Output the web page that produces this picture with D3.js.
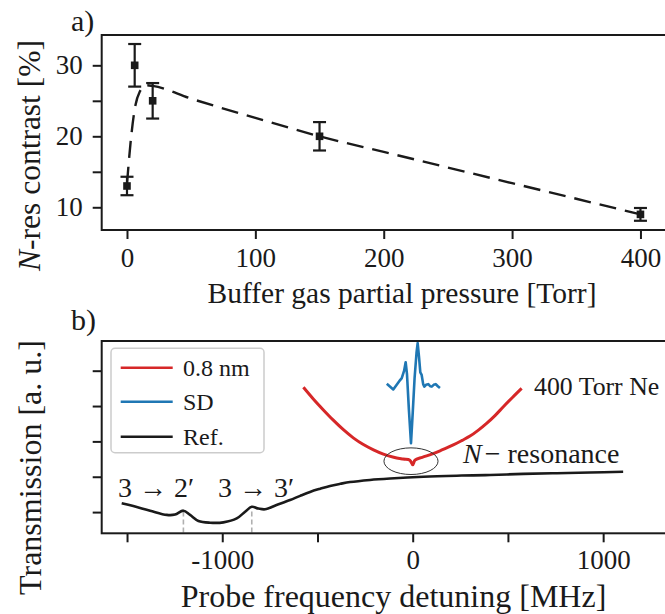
<!DOCTYPE html>
<html><head><meta charset="utf-8">
<script src="https://cdn.jsdelivr.net/npm/d3@7"></script>
<style>
body{margin:0;background:#fff}
svg{display:block}
text{font-family:"Liberation Serif","Times New Roman",serif;fill:#1a1a1a}
</style>
</head><body>
<svg id="c" width="665" height="614"></svg>
<script>
// ---------- Panel a data ----------
const pressure = [0, 6, 20, 150, 400];
const contrast = [13, 30, 25, 20, 9];
const contrastErr = [1.3, 3, 2.5, 2, 0.9];
const fitPressure = [0, 3, 6, 10, 15, 20, 50, 100, 150, 200, 250, 300, 350, 400];
const fitContrast = [13.3, 19.5, 23.8, 26.3, 27.2, 27.1, 25.3, 22.6, 20.0, 17.8, 15.6, 13.4, 11.2, 9.0];
const xTicksA = [0, 100, 200, 300, 400];
const yTicksA = [10, 15, 20, 25, 30];
const yLabelsA = [10, 20, 30];

// ---------- Panel b data ----------
const detuneRef = [-1528,-1467,-1379,-1291,-1248,-1204,-1169,-1125,-1064,-994,-924,-880,-845,-810,-775,-715,-644,-591,-539,-486,-434,-380,-329,-224,-119,56,231,406,581,756,931,1105];
const transRef  = [0.25,0.17,0.04,-0.08,-0.07,0.04,-0.08,-0.25,-0.30,-0.29,-0.18,0.01,0.15,0.10,0.08,0.20,0.34,0.46,0.57,0.66,0.74,0.80,0.85,0.91,0.95,1.00,1.03,1.05,1.08,1.10,1.12,1.14];
const detuneRed = [-574,-522,-469,-417,-364,-312,-259,-206,-154,-100,-50,-15,0,12,50,100,150,213,260,301,345,388,432,476,525,572];
const transRed  = [3.53,3.20,2.89,2.60,2.33,2.10,1.91,1.76,1.64,1.55,1.50,1.47,1.34,1.47,1.55,1.64,1.75,1.90,2.03,2.15,2.32,2.51,2.73,2.98,3.25,3.50];
const detuneBlue = [-136,-102,-67,-58,-45,-37,-30,-20,-9,0,10,20,26,33,40,47,55,61,70,82,92,100,110,121,132,143];
const transBlue  = [3.63,3.47,3.73,3.78,4.0,4.24,3.9,2.9,1.95,2.8,3.8,4.5,4.78,4.4,3.95,3.88,3.62,3.55,3.6,3.62,3.56,3.55,3.6,3.62,3.56,3.51];
const hfsDetune = [-1204, -845];
const hfsLabels = ["3 \u2192 2\u2032", "3 \u2192 3\u2032"];
const xTicksB = [-1500, -1000, -500, 0, 500, 1000];
const xLabelsB = [-1000, 0, 1000];
const yTicksB = [0, 1, 2, 3, 4];
const legendNames = ["0.8 nm", "SD", "Ref."];
const legendColors = ["#d62728", "#1f77b4", "#1a1a1a"];

const svg = d3.select("#c");
const INK = "#1a1a1a";
const SERIF = '"Liberation Serif","Times New Roman",serif';

// ---------- Panel a ----------
const A = {l: 101.7, r: 666, t: 35, b: 230};
const xA = d3.scaleLinear().domain([-19.7, 419.9]).range([A.l, A.r]);
const yA = d3.scaleLinear().domain([6.8, 34.27]).range([A.b, A.t]);

function styleAxis(g, fs){
  g.attr("font-family", SERIF).attr("font-size", fs);
  g.select(".domain").remove();
  g.selectAll(".tick line").attr("stroke", INK).attr("stroke-width", 2);
  g.selectAll(".tick text").attr("font-size", fs).attr("fill", INK).attr("font-family", SERIF);
}

const gxA = svg.append("g").attr("transform", `translate(0,${A.b})`)
  .call(d3.axisBottom(xA).tickValues(xTicksA).tickSize(9).tickPadding(9).tickFormat(d3.format("d")));
styleAxis(gxA, 27);
const gyA = svg.append("g").attr("transform", `translate(${A.l},0)`)
  .call(d3.axisLeft(yA).tickValues(yTicksA).tickSize(9).tickPadding(10)
    .tickFormat(d => yLabelsA.includes(d) ? d : ""));
styleAxis(gyA, 27);

// fit line
svg.append("path")
  .datum(fitPressure.map((p, i) => [p, fitContrast[i]]))
  .attr("fill", "none").attr("stroke", INK).attr("stroke-width", 2.4)
  .attr("stroke-dasharray", "17,9")
  .attr("d", d3.line().x(d => xA(d[0])).y(d => yA(d[1])).curve(d3.curveMonotoneX));

// error bars
const eb = svg.append("g");
pressure.forEach((p, i) => {
  const x = xA(p), y1 = yA(contrast[i] - contrastErr[i]), y2 = yA(contrast[i] + contrastErr[i]);
  eb.append("line").attr("x1", x).attr("x2", x).attr("y1", y1).attr("y2", y2).attr("stroke", INK).attr("stroke-width", 2.2);
  [y1, y2].forEach(y => eb.append("line").attr("x1", x - 6.5).attr("x2", x + 6.5).attr("y1", y).attr("y2", y).attr("stroke", INK).attr("stroke-width", 2.2));
  eb.append("rect").attr("x", x - 3.8).attr("y", yA(contrast[i]) - 3.8).attr("width", 7.6).attr("height", 7.6).attr("fill", INK);
});

// spines a
svg.append("rect").attr("x", A.l).attr("y", A.t).attr("width", A.r - A.l).attr("height", A.b - A.t)
  .attr("fill", "none").attr("stroke", INK).attr("stroke-width", 2);

svg.append("text").attr("x", 402).attr("y", 303).attr("text-anchor", "middle").attr("font-size", 29.5)
  .text("Buffer gas partial pressure [Torr]");
const ylA = svg.append("text").attr("transform", "translate(40,155.5) rotate(-90)").attr("text-anchor", "middle").attr("font-size", 31.5);
ylA.append("tspan").attr("font-style", "italic").text("N");
ylA.append("tspan").text("-res contrast [%]");
svg.append("text").attr("x", 71).attr("y", 31).attr("font-size", 30).text("a)");

// ---------- Panel b ----------
const B = {l: 101.7, r: 666, t: 341, b: 533.3};
const xB = d3.scaleLinear().domain([-1633, 1330]).range([B.l, B.r]);
const yB = d3.scaleLinear().domain([-0.60, 4.84]).range([B.b, B.t]);

const gxB = svg.append("g").attr("transform", `translate(0,${B.b})`)
  .call(d3.axisBottom(xB).tickValues(xTicksB).tickSize(9).tickPadding(8)
    .tickFormat(d => xLabelsB.includes(d) ? String(d) : ""));
styleAxis(gxB, 27);
const gyB = svg.append("g").attr("transform", `translate(${B.l},0)`)
  .call(d3.axisLeft(yB).tickValues(yTicksB).tickSize(9).tickFormat(""));
styleAxis(gyB, 27);

// hyperfine dashed markers
hfsDetune.forEach(d => {
  svg.append("line").attr("x1", xB(d)).attr("x2", xB(d)).attr("y1", yB(0.02)).attr("y2", B.b)
    .attr("stroke", "#b0b0b0").attr("stroke-width", 1.6).attr("stroke-dasharray", "5,3");
});

const pts = (xs, ys) => xs.map((d, i) => [d, ys[i]]);
const smooth = d3.line().x(d => xB(d[0])).y(d => yB(d[1])).curve(d3.curveCatmullRom);
const sharp = d3.line().x(d => xB(d[0])).y(d => yB(d[1]));

svg.append("path").attr("fill", "none").attr("stroke", "#1a1a1a").attr("stroke-width", 2.6)
  .attr("d", smooth(pts(detuneRef, transRef)));
svg.append("path").attr("fill", "none").attr("stroke", "#d62728").attr("stroke-width", 3)
  .attr("stroke-linejoin", "round").attr("d", smooth(pts(detuneRed, transRed)));
svg.append("path").attr("fill", "none").attr("stroke", "#1f77b4").attr("stroke-width", 2.6)
  .attr("stroke-linejoin", "round").attr("d", sharp(pts(detuneBlue, transBlue)));

// ellipse around N-resonance
svg.append("ellipse").attr("cx", xB(-9)).attr("cy", yB(1.44))
  .attr("rx", xB(142) - xB(0)).attr("ry", yB(0) - yB(0.377))
  .attr("fill", "none").attr("stroke", "#333").attr("stroke-width", 1);

// spines b
svg.append("rect").attr("x", B.l).attr("y", B.t).attr("width", B.r - B.l).attr("height", B.b - B.t)
  .attr("fill", "none").attr("stroke", INK).attr("stroke-width", 2);

// annotations
svg.append("text").attr("x", 118).attr("y", 497).attr("font-size", 28).text(hfsLabels[0]);
svg.append("text").attr("x", 218).attr("y", 497).attr("font-size", 28).text(hfsLabels[1]);
svg.append("text").attr("x", 534).attr("y", 395).attr("font-size", 25.8).text("400 Torr Ne");
const nres = svg.append("text").attr("x", 463).attr("y", 463).attr("font-size", 28);
nres.append("tspan").attr("font-style", "italic").text("N");
nres.append("tspan").attr("dx", 3).text("\u2212 resonance");

// legend
const lg = svg.append("g");
lg.append("rect").attr("x", 111).attr("y", 348.3).attr("width", 153).attr("height", 104.4).attr("rx", 4)
  .attr("fill", "#fff").attr("fill-opacity", 0.8).attr("stroke", "#cccccc").attr("stroke-width", 1.5);
const ly = [367.7, 401.7, 436.7];
legendNames.forEach((n, i) => {
  lg.append("line").attr("x1", 120.7).attr("x2", 172.7).attr("y1", ly[i]).attr("y2", ly[i])
    .attr("stroke", legendColors[i]).attr("stroke-width", 2.6);
  lg.append("text").attr("x", 183).attr("y", ly[i]).attr("dy", "0.35em").attr("font-size", 24).text(n);
});

svg.append("text").attr("x", 393.5).attr("y", 607).attr("text-anchor", "middle").attr("font-size", 32)
  .text("Probe frequency detuning [MHz]");
svg.append("text").attr("transform", "translate(41,467.5) rotate(-90)").attr("text-anchor", "middle").attr("font-size", 32)
  .text("Transmission [a. u.]");
svg.append("text").attr("x", 71).attr("y", 330).attr("font-size", 30).text("b)");
</script>
</body></html>
